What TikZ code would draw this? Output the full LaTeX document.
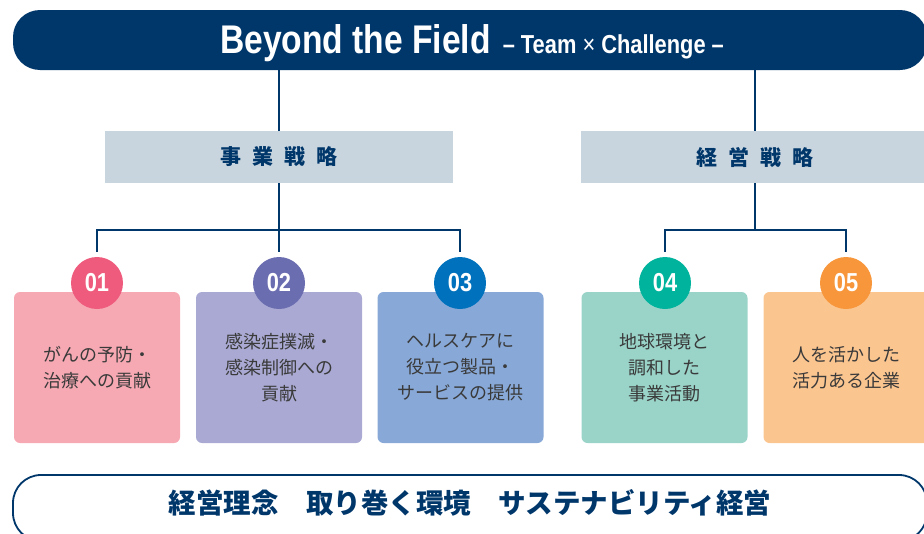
\documentclass[tikz,border=0pt]{standalone}
\usepackage{fontspec}
\setmainfont{Noto Sans CJK JP}
\newfontfamily\jp{Noto Sans CJK JP}
\newfontfamily\cond{Liberation Sans}[FakeStretch=0.84]
\definecolor{navy}{HTML}{00376B}
\definecolor{stratfill}{HTML}{C9D5DE}
\definecolor{txtgray}{HTML}{3A3A3A}
\definecolor{fA}{HTML}{F6A9B3}\definecolor{cA}{HTML}{EF5B7C}
\definecolor{fB}{HTML}{A9A9D3}\definecolor{cB}{HTML}{6B6DB1}
\definecolor{fC}{HTML}{88A9D8}\definecolor{cC}{HTML}{0071BC}
\definecolor{fD}{HTML}{9AD4C9}\definecolor{cD}{HTML}{00B39C}
\definecolor{fE}{HTML}{FBC590}\definecolor{cE}{HTML}{F7963B}
\tikzset{
  conn/.style={draw=navy, line width=1.8pt},
  stratbox/.style={fill=stratfill, minimum width=348pt, minimum height=52pt, inner sep=0pt,
     font=\jp\bfseries\fontsize{21pt}{24pt}\selectfont, text=navy},
  itembox/.style={rounded corners=6pt, minimum width=166pt, minimum height=151pt, inner sep=0pt,
     align=center, text=txtgray, font=\jp\fontsize{18pt}{26pt}\selectfont},
  numcirc/.style={circle, minimum size=52pt, inner sep=0pt, text=white,
     font=\cond\bfseries\fontsize{26pt}{26pt}\selectfont},
}
\begin{document}
\begin{tikzpicture}[x=1pt,y=-1pt]
\useasboundingbox (0,0) rectangle (924,533);
\clip (0,0) rectangle (924,533);
% header
\node[fill=navy, rounded corners=27pt, minimum width=914pt, minimum height=60pt, inner sep=0pt] (header) at (470,40) {};
\node[anchor=base, text=white, inner sep=0pt] (title) at (472,53)
  {{\cond\bfseries\fontsize{40pt}{42pt}\selectfont Beyond the Field}\hspace{12pt}{\cond\bfseries\fontsize{26pt}{28pt}\selectfont – Team {\mdseries ×} Challenge –}};
% strategy boxes
\node[stratbox] (s1) at (279,157) {事\hspace{11pt}業\hspace{11pt}戦\hspace{11pt}略};
\node[stratbox] (s2) at (755,157) {経\hspace{11pt}営\hspace{11pt}戦\hspace{11pt}略};
% item boxes
\node[itembox, fill=fA] (b1) at (97,367.5) {がんの予防・\\治療への貢献};
\node[itembox, fill=fB] (b2) at (279,367.5) {感染症撲滅・\\感染制御への\\貢献};
\node[itembox, fill=fC] (b3) at (460.5,367.5) {ヘルスケアに\\役立つ製品・\\サービスの提供};
\node[itembox, fill=fD] (b4) at (664.5,367.5) {地球環境と\\調和した\\事業活動};
\node[itembox, fill=fE] (b5) at (846.5,367.5) {人を活かした\\活力ある企業};
% number circles
\node[numcirc, fill=cA] (n1) at (97,283) {01};
\node[numcirc, fill=cB] (n2) at (279,283) {02};
\node[numcirc, fill=cC] (n3) at (460,283) {03};
\node[numcirc, fill=cD] (n4) at (665,283) {04};
\node[numcirc, fill=cE] (n5) at (846,283) {05};
% connector ends
\coordinate (t1) at (97,252);
\coordinate (t2) at (279,252);
\coordinate (t3) at (460,252);
\coordinate (t4) at (665,252);
\coordinate (t5) at (846,252);
\coordinate (j1) at (279,230);
\coordinate (j2) at (755,230);
% connectors
\draw[conn] (header.south -| s1.north) -- (s1.north);
\draw[conn] (header.south -| s2.north) -- (s2.north);
\draw[conn] (s1.south) -- (t2);
\draw[conn] (t1) -- (t1 |- j1) -- (t3 |- j1) -- (t3);
\draw[conn] (s2.south) -- (j2);
\draw[conn] (t4) -- (t4 |- j2) -- (t5 |- j2) -- (t5);
% bottom pill
\node[draw=navy, line width=1.8pt, rounded corners=28pt, minimum width=914pt, minimum height=66pt, inner sep=0pt] (base) at (470,508) {};
\node[text=navy, font=\jp\bfseries\fontsize{27.5pt}{30pt}\selectfont, inner sep=0pt] (basetext) at (470,503) {経営理念　取り巻く環境　サステナビリティ経営};
\end{tikzpicture}
\end{document}
